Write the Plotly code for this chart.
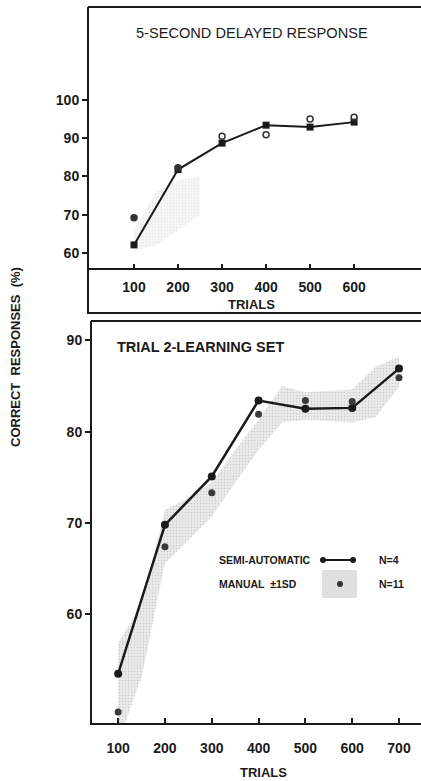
import plotly.graph_objects as go

W, H = 421, 781

# ---- Top panel: 5-second delayed response ----
dr_trials = [100, 200, 300, 400, 500, 600]
dr_semi = [62.1, 81.8, 88.7, 93.4, 92.9, 94.2]
dr_manual = [69.2, 82.3, 90.5, 90.9, 95.0, 95.5]
dr_band_trials = [100, 150, 200, 250]
dr_band_low = [60.5, 62.0, 66.0, 70.0]
dr_band_high = [66.0, 76.0, 79.0, 80.0]
dr_ticks = [100, 200, 300, 400, 500, 600]
dr_yticks = [60, 70, 80, 90, 100]

# ---- Bottom panel: trial 2 learning set ----
ls_trials = [100, 200, 300, 400, 500, 600, 700]
ls_semi = [53.5, 69.8, 75.1, 83.4, 82.5, 82.6, 86.9]
ls_manual = [49.3, 67.4, 73.3, 81.9, 83.4, 83.3, 85.9]
ls_band_trials = [100, 150, 200, 250, 300, 350, 400, 450, 500, 600, 650, 700]
ls_band_low = [46.0, 53.1, 65.6, 68.1, 70.7, 74.4, 78.0, 81.0, 81.3, 81.0, 81.6, 84.9]
ls_band_high = [56.8, 61.2, 71.4, 72.8, 74.4, 78.0, 81.3, 85.0, 84.3, 84.6, 87.1, 88.2]
ls_ticks = [100, 200, 300, 400, 500, 600, 700]
ls_yticks = [60, 70, 80, 90]


def px(x):
    return x / W


def py(y):
    return 1 - y / H


FONT = "Liberation Sans"
INK = "#1a1a1a"

fig = go.Figure()

# top band (faint)
fig.add_trace(go.Scatter(
    x=dr_band_trials + dr_band_trials[::-1], y=dr_band_high + dr_band_low[::-1],
    fill="toself", fillcolor="rgba(170,170,170,0.10)", line=dict(width=0),
    fillpattern=dict(shape=".", fgcolor="rgba(120,120,120,0.25)", size=3, solidity=0.15, fillmode="overlay"),
    mode="lines", hoverinfo="skip", showlegend=False, xaxis="x", yaxis="y"))
fig.add_trace(go.Scatter(
    x=dr_trials, y=dr_semi, mode="lines+markers",
    line=dict(color=INK, width=2), marker=dict(symbol="square", size=7, color=INK),
    showlegend=False, xaxis="x", yaxis="y"))
dr_sym = ["circle", "circle", "circle-open", "circle-open", "circle-open", "circle-open"]
fig.add_trace(go.Scatter(
    x=dr_trials, y=dr_manual, mode="markers",
    marker=dict(symbol=dr_sym, size=6, color="#333", line=dict(width=1.5, color="#333")),
    showlegend=False, xaxis="x", yaxis="y"))

# bottom band
fig.add_trace(go.Scatter(
    x=ls_band_trials + ls_band_trials[::-1], y=ls_band_high + ls_band_low[::-1],
    fill="toself", fillcolor="rgba(160,160,160,0.22)", line=dict(width=0),
    fillpattern=dict(shape=".", fgcolor="rgba(90,90,90,0.45)", size=3, solidity=0.2, fillmode="overlay"),
    mode="lines", hoverinfo="skip", showlegend=False, xaxis="x2", yaxis="y2"))
fig.add_trace(go.Scatter(
    x=ls_trials, y=ls_semi, mode="lines+markers",
    line=dict(color=INK, width=2.5), marker=dict(symbol="circle", size=8, color=INK),
    showlegend=False, xaxis="x2", yaxis="y2"))
fig.add_trace(go.Scatter(
    x=ls_trials, y=ls_manual, mode="markers",
    marker=dict(symbol="circle", size=7, color="#3a3a3a"),
    showlegend=False, xaxis="x2", yaxis="y2"))

tickfont = dict(family=FONT, size=14, color=INK, weight="bold")

fig.update_layout(
    width=W, height=H, margin=dict(l=0, r=0, t=0, b=0),
    paper_bgcolor="white", plot_bgcolor="rgba(0,0,0,0)",
    xaxis=dict(domain=[px(88), 1.0], range=[-4.5, 752], anchor="y",
               tickvals=dr_ticks,
               ticks="inside", ticklen=5, tickwidth=1.5, tickcolor=INK,
               showline=False, showgrid=False, zeroline=False,
               tickfont=tickfont, ticklabelstandoff=8),
    yaxis=dict(domain=[py(269), py(7)], range=[55.8, 124.3], anchor="x",
               tickvals=dr_yticks,
               ticks="outside", ticklen=5, tickwidth=1.5, tickcolor=INK,
               showline=False, showgrid=False, zeroline=False,
               tickfont=tickfont),
    xaxis2=dict(domain=[px(91), 1.0], range=[42, 747], anchor="y2",
                tickvals=ls_ticks,
                ticks="inside", ticklen=6, tickwidth=1.5, tickcolor=INK,
                showline=False, showgrid=False, zeroline=False,
                tickfont=tickfont, ticklabelstandoff=14),
    yaxis2=dict(domain=[py(724), py(322)], range=[48, 92], anchor="x2",
                tickvals=ls_yticks,
                ticks="outside", ticklen=5, tickwidth=1.5, tickcolor=INK,
                showline=False, showgrid=False, zeroline=False,
                tickfont=tickfont),
)

lw = 2
shapes = [
    # top frame
    dict(type="line", xref="paper", yref="paper", x0=px(88), x1=1.02, y0=py(7), y1=py(7), line=dict(color=INK, width=lw)),
    dict(type="line", xref="paper", yref="paper", x0=px(88), x1=px(88), y0=py(7), y1=py(314), line=dict(color=INK, width=lw)),
    dict(type="line", xref="paper", yref="paper", x0=px(88), x1=1.02, y0=py(269), y1=py(269), line=dict(color=INK, width=lw)),
    dict(type="line", xref="paper", yref="paper", x0=px(88), x1=1.02, y0=py(313), y1=py(313), line=dict(color=INK, width=lw)),
    # bottom frame
    dict(type="line", xref="paper", yref="paper", x0=px(91), x1=1.02, y0=py(321), y1=py(321), line=dict(color=INK, width=lw)),
    dict(type="line", xref="paper", yref="paper", x0=px(91), x1=px(91), y0=py(321), y1=py(725), line=dict(color=INK, width=lw)),
    dict(type="line", xref="paper", yref="paper", x0=px(91), x1=1.02, y0=py(724), y1=py(724), line=dict(color=INK, width=lw)),
    # legend: semi-automatic symbol
    dict(type="line", xref="paper", yref="paper", x0=px(323), x1=px(353), y0=py(560), y1=py(560), line=dict(color=INK, width=2)),
    dict(type="circle", xref="paper", yref="paper", x0=px(320), x1=px(326), y0=py(557), y1=py(563), fillcolor=INK, line=dict(width=0)),
    dict(type="circle", xref="paper", yref="paper", x0=px(350), x1=px(356), y0=py(557), y1=py(563), fillcolor=INK, line=dict(width=0)),
    # legend: manual patch
    dict(type="rect", xref="paper", yref="paper", x0=px(322), x1=px(357), y0=py(598), y1=py(570), fillcolor="rgba(150,150,150,0.30)", line=dict(width=0)),
    dict(type="circle", xref="paper", yref="paper", x0=px(337), x1=px(343), y0=py(587), y1=py(581), fillcolor="#333", line=dict(width=0)),
]
fig.update_layout(shapes=shapes)

ann = [
    dict(text="5-SECOND DELAYED RESPONSE", x=px(252), y=py(33), font=dict(family=FONT, size=14.6, color=INK)),
    dict(text="TRIALS", x=px(251), y=py(305), font=dict(family=FONT, size=13, color=INK, weight="bold")),
    dict(text="TRIAL 2-LEARNING SET", x=px(115), y=py(347), xanchor="left", font=dict(family=FONT, size=14.5, color=INK, weight="bold")),
    dict(text="TRIALS", x=px(263), y=py(772), font=dict(family=FONT, size=13, color=INK, weight="bold")),
    dict(text="CORRECT  RESPONSES  (%)", x=px(15), y=py(357), textangle=-90, font=dict(family=FONT, size=13, color=INK, weight="bold")),
    dict(text="SEMI-AUTOMATIC", x=px(217), y=py(560), xanchor="left", font=dict(family=FONT, size=10.5, color=INK, weight="bold")),
    dict(text="MANUAL  ±1SD", x=px(217), y=py(584), xanchor="left", font=dict(family=FONT, size=10.5, color=INK, weight="bold")),
    dict(text="N=4", x=px(377), y=py(560), xanchor="left", font=dict(family=FONT, size=10.5, color=INK, weight="bold")),
    dict(text="N=11", x=px(377), y=py(584), xanchor="left", font=dict(family=FONT, size=10.5, color=INK, weight="bold")),
]
for a in ann:
    a.update(xref="paper", yref="paper", showarrow=False)
    a.setdefault("xanchor", "center")
    a["yanchor"] = "middle"
fig.update_layout(annotations=ann)

fig.write_html(
    "out.html",
    config={"displayModeBar": False},
    post_script="document.body.style.margin='0';document.body.style.overflow='hidden';",
)
